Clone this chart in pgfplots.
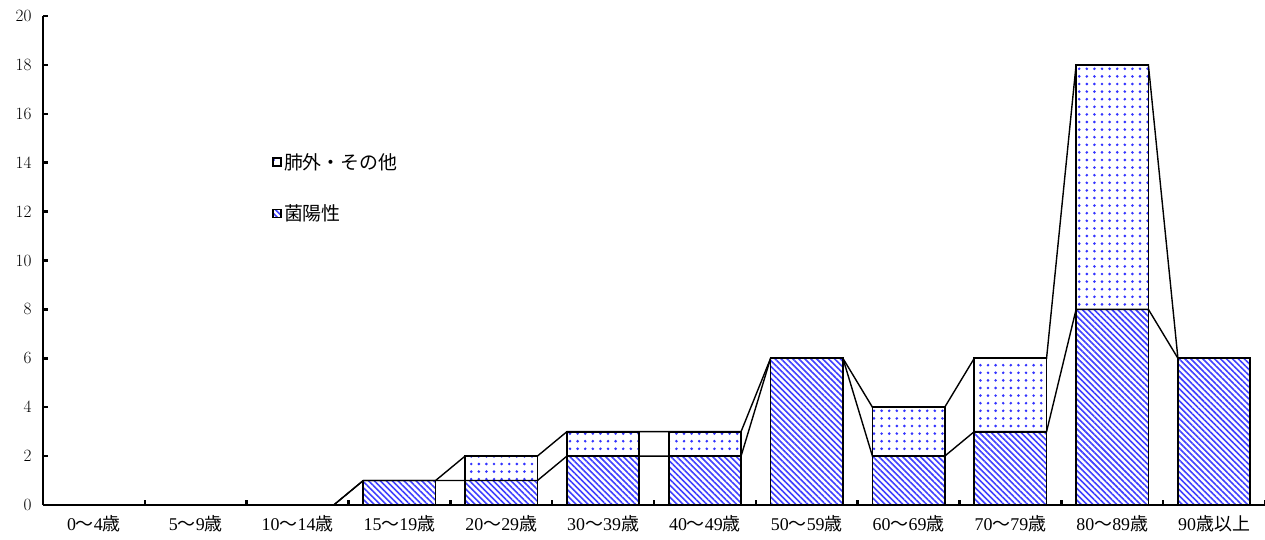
\documentclass[border=0pt]{standalone}
\usepackage{pgfplots}
\pgfplotsset{compat=1.18}
\usepackage{fontspec}
\setmainfont{Liberation Serif}
\newfontfamily\jp{Noto Sans CJK JP}
\usetikzlibrary{patterns.meta}
\newcommand{\J}[1]{{\jp #1}}
\begin{document}
\begin{tikzpicture}
\useasboundingbox (-43bp,-35bp) rectangle (1222bp,505bp);
\begin{axis}[
  at={(0,0)}, anchor=south west,
  scale only axis, width=1222bp, height=489bp,
  xmin=-0.5, xmax=11.5, ymin=0, ymax=20,
  ybar stacked, bar width=0.71,
  ytick={0,2,...,20},
  xtick={0,...,11},
  xticklabels={0\J{～}4\J{歳},5\J{～}9\J{歳},10\J{～}14\J{歳},15\J{～}19\J{歳},20\J{～}29\J{歳},30\J{～}39\J{歳},40\J{～}49\J{歳},50\J{～}59\J{歳},60\J{～}69\J{歳},70\J{～}79\J{歳},80\J{～}89\J{歳},90\J{歳以上}},
  minor xtick={0.5,1.5,...,11.5},
  axis lines=left,
  axis line style={-, line width=2.5bp},
  tick align=inside,
  major tick length=5bp, minor tick length=5bp,
  major x tick style={draw=none},
  minor x tick style={line width=2.5bp, black},
  major y tick style={line width=2.5bp, black},
  ticklabel style={font=\fontsize{18}{20}\selectfont},
  yticklabel style={xshift=-8bp},
  xticklabel style={yshift=-7bp},
  legend style={at={(axis cs:1.72,14.55)}, anchor=north west, draw=none, fill=none,
    font=\jp\fontsize{19}{22}\selectfont, row sep=30bp},
  legend cell align=left,
  reverse legend,
  legend image code/.code={\draw[#1, line width=1.8bp] (0bp,-4bp) rectangle (8bp,4bp);},
]
\addplot[draw=black, line width=1.7bp, pattern={Lines[angle=-45,distance=4.2bp,line width=1.6bp]}, pattern color=blue!75!white]
 coordinates {(0,0)(1,0)(2,0)(3,1)(4,1)(5,2)(6,2)(7,6)(8,2)(9,3)(10,8)(11,6)};
\addlegendentry{菌陽性}
\addplot[draw=black, line width=1.7bp, pattern={Dots[distance=7.6bp,radius=1.45bp]}, pattern color=blue!80!white]
 coordinates {(0,0)(1,0)(2,0)(3,0)(4,1)(5,1)(6,1)(7,0)(8,2)(9,3)(10,10)(11,0)};
\addlegendentry{肺外・その他}
\end{axis}
\begin{axis}[
  at={(0,0)}, anchor=south west,
  scale only axis, width=1222bp, height=489bp,
  xmin=-0.5, xmax=11.5, ymin=0, ymax=20,
  hide axis, clip=false,
]
\addplot[black, line width=1.4bp, no marks] coordinates {
(-0.355,0)(0.355,0)(0.645,0)(1.355,0)(1.645,0)(2.355,0)(2.645,1)(3.355,1)(3.645,1)(4.355,1)(4.645,2)(5.355,2)(5.645,2)(6.355,2)(6.645,6)(7.355,6)(7.645,2)(8.355,2)(8.645,3)(9.355,3)(9.645,8)(10.355,8)(10.645,6)(11.355,6)};
\addplot[black, line width=1.4bp, no marks] coordinates {
(-0.355,0)(0.355,0)(0.645,0)(1.355,0)(1.645,0)(2.355,0)(2.645,1)(3.355,1)(3.645,2)(4.355,2)(4.645,3)(5.355,3)(5.645,3)(6.355,3)(6.645,6)(7.355,6)(7.645,4)(8.355,4)(8.645,6)(9.355,6)(9.645,18)(10.355,18)(10.645,6)(11.355,6)};
\end{axis}
\end{tikzpicture}
\end{document}
